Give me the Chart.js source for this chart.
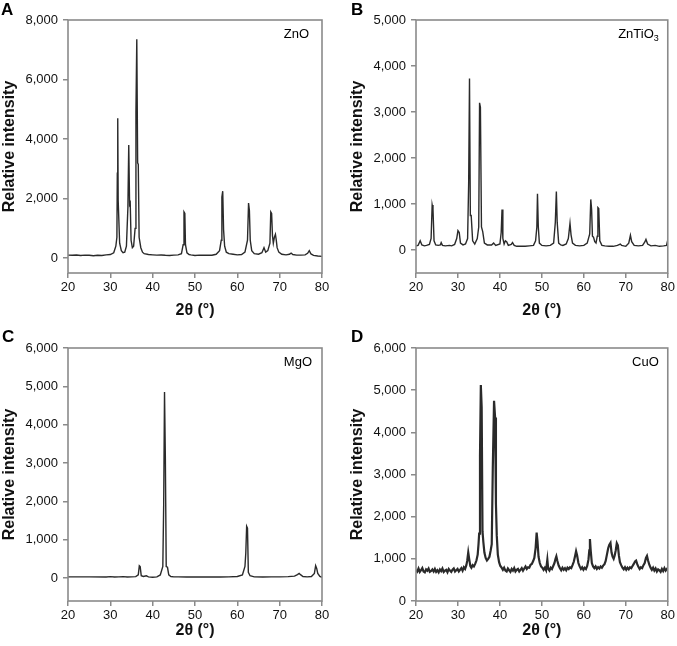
<!DOCTYPE html>
<html><head><meta charset="utf-8">
<script src="https://cdn.jsdelivr.net/npm/chart.js@4"></script>
<style>
html,body{margin:0;padding:0;background:#fff;width:677px;height:646px;overflow:hidden}
canvas{position:absolute;display:block}
</style></head><body>
<canvas id="cA" width="338" height="320" style="left:0;top:0"></canvas>
<canvas id="cB" width="339" height="320" style="left:338px;top:0"></canvas>
<canvas id="cC" width="338" height="326" style="left:0;top:320px"></canvas>
<canvas id="cD" width="339" height="326" style="left:338px;top:320px"></canvas>
<script>
// ---------- data ----------
const xTicks = [20, 30, 40, 50, 60, 70, 80];
const xTitle = '2θ (°)';
const yTitle = 'Relative intensity';
const panelLetters = ['A', 'B', 'C', 'D'];
const sampleNames = ['ZnO', 'ZnTiO|3', 'MgO', 'CuO'];
const yTicksA = [0, 2000, 4000, 6000, 8000];
const yTicksB = [0, 1000, 2000, 3000, 4000, 5000];
const yTicksC = [0, 1000, 2000, 3000, 4000, 5000, 6000];
const yTicksD = [0, 1000, 2000, 3000, 4000, 5000, 6000];
const yRangeA = [-500, 8000];
const yRangeB = [-500, 5000];
const yRangeC = [-600, 6000];
const yRangeD = [0, 6000];

// [2θ, intensity]
const znoPattern = [[20,100],[21,95],[22,105],[23,90],[24,100],[25,95],[26,80],[27,95],[28,90],[29,110],[30,120],[30.8,180],[31.3,400],[31.55,700],[31.65,2850],[31.75,4700],[31.85,1950],[31.95,1950],[32.2,500],[32.6,250],[33,180],[33.4,200],[33.8,400],[34.15,1700],[34.35,3800],[34.55,1800],[34.7,1850],[34.9,600],[35.2,350],[35.5,400],[35.85,1000],[36.05,4900],[36.25,7350],[36.45,3200],[36.6,3150],[36.8,700],[37.2,350],[37.6,200],[38,150],[39,120],[40,110],[41,100],[42,105],[43,95],[44,90],[45,100],[46,110],[46.8,150],[47.2,450],[47.4,1550],[47.6,1500],[47.75,450],[48.1,180],[48.6,120],[49,110],[50,90],[51,100],[52,95],[53,100],[54,95],[55,130],[55.8,250],[56.2,600],[56.35,2050],[56.55,2250],[56.75,950],[57,400],[57.4,200],[58,150],[59,130],[60,110],[61,120],[61.8,200],[62.4,600],[62.65,1850],[62.85,1600],[63.05,600],[63.4,250],[64,150],[65,130],[65.8,180],[66.3,350],[66.7,200],[67.2,250],[67.7,500],[67.9,1550],[68.1,1500],[68.3,750],[68.5,500],[68.75,700],[69,800],[69.2,600],[69.4,350],[69.8,200],[70.5,130],[71.5,110],[72.3,130],[72.7,170],[73.1,120],[74,100],[75,100],[76,110],[76.6,160],[77,250],[77.4,140],[78,90],[79,70],[80,60]];

const zntio3Pattern = [[20,90],[20.5,100],[21,200],[21.4,110],[22,90],[22.5,100],[23.2,120],[23.6,250],[23.85,980],[24.05,880],[24.3,200],[24.7,110],[25.3,100],[25.8,110],[26,160],[26.3,100],[27,90],[28,100],[28.5,90],[29.2,120],[29.7,250],[30,420],[30.3,380],[30.6,150],[31.2,110],[31.8,130],[32.3,250],[32.55,1450],[32.75,3730],[32.95,750],[33.15,750],[33.5,200],[34,130],[34.6,250],[34.95,500],[35.15,3200],[35.35,3100],[35.6,500],[35.9,400],[36.3,150],[37,110],[38,110],[38.5,150],[39,100],[40,130],[40.3,380],[40.5,880],[40.7,250],[41,130],[41.3,200],[41.6,180],[42,100],[42.7,120],[43,160],[43.4,100],[44,80],[45,80],[46,80],[47,90],[48,100],[48.5,200],[48.8,500],[48.95,1220],[49.15,500],[49.4,150],[50,100],[51,90],[52,100],[52.8,150],[53.2,600],[53.45,1270],[53.65,600],[54,150],[54.5,110],[55,100],[55.8,130],[56.3,250],[56.7,580],[56.95,330],[57.3,150],[58,100],[59,90],[60,100],[60.8,150],[61.4,350],[61.65,1100],[61.85,880],[62.05,300],[62.3,280],[62.6,180],[62.9,150],[63.2,300],[63.35,920],[63.55,900],[63.8,200],[64.3,100],[65,90],[66,80],[67,80],[68,100],[68.7,130],[69,100],[70,80],[70.7,150],[71.1,320],[71.4,180],[72,100],[73,90],[74,100],[74.5,170],[74.8,230],[75.2,130],[76,90],[77,100],[78,80],[79,90],[79.7,100],[80,220]];

const mgoPattern = [[20,30],[25,30],[29,25],[30,35],[31,25],[32,30],[33,35],[34,25],[35,30],[36,35],[36.6,80],[36.85,320],[37.05,300],[37.3,60],[37.8,40],[38.5,60],[39,30],[40,20],[41,30],[41.8,80],[42.4,300],[42.6,1900],[42.8,4850],[43,3100],[43.2,300],[43.5,280],[43.8,80],[44.3,40],[45,30],[46,30],[48,25],[50,30],[52,25],[54,30],[56,25],[58,30],[60,40],[61.2,80],[61.8,300],[62,650],[62.2,1350],[62.4,1300],[62.6,150],[63,60],[64,30],[66,25],[68,30],[70,30],[72,35],[73.5,50],[74.2,90],[74.6,120],[75,80],[75.5,40],[76.5,30],[77.5,40],[78.2,120],[78.5,320],[78.75,250],[79,120],[79.5,40],[80,20]];

const cuoPattern = [[20,740],[20.3,700],[20.6,770],[20.9,690],[21.2,730],[21.5,780],[21.8,700],[22.1,680],[22.4,750],[22.7,720],[23,770],[23.3,690],[23.6,710],[23.9,750],[24.2,700],[24.5,760],[24.8,690],[25.1,730],[25.4,680],[25.7,750],[26,710],[26.3,770],[26.6,690],[26.9,720],[27.2,740],[27.5,680],[27.8,760],[28.1,720],[28.4,690],[28.7,740],[29,770],[29.3,700],[29.6,730],[29.9,760],[30.2,700],[30.5,740],[30.8,780],[31.1,720],[31.4,800],[31.7,760],[32,850],[32.2,950],[32.45,1150],[32.7,980],[32.95,830],[33.2,790],[33.5,850],[33.8,820],[34.1,880],[34.4,960],[34.7,1100],[34.9,1350],[35.05,1600],[35.25,3450],[35.45,5120],[35.65,4600],[35.85,1650],[36.05,1400],[36.3,1150],[36.6,1020],[36.9,960],[37.2,1000],[37.5,1050],[37.8,1200],[38.05,1350],[38.3,3150],[38.6,4750],[38.85,4350],[39.05,2300],[39.25,1550],[39.5,1100],[39.8,920],[40.1,830],[40.4,790],[40.7,740],[41,790],[41.3,720],[41.6,700],[41.9,770],[42.2,730],[42.5,690],[42.8,760],[43.1,720],[43.4,780],[43.7,700],[44,740],[44.3,760],[44.6,700],[44.9,740],[45.2,780],[45.5,720],[45.8,770],[46.1,820],[46.4,760],[46.7,800],[47,790],[47.3,860],[47.6,880],[47.9,940],[48.2,1020],[48.5,1250],[48.75,1620],[48.95,1420],[49.2,1050],[49.5,900],[49.8,820],[50.1,790],[50.4,740],[50.7,790],[51,730],[51.3,980],[51.5,760],[51.8,720],[52.1,790],[52.4,760],[52.7,830],[53,900],[53.25,1000],[53.45,1060],[53.7,950],[54,840],[54.3,780],[54.6,730],[54.9,790],[55.2,740],[55.5,780],[55.8,730],[56.1,790],[56.4,760],[56.7,800],[57,780],[57.3,850],[57.6,930],[57.9,1060],[58.15,1180],[58.4,1080],[58.7,900],[59,820],[59.3,760],[59.6,800],[59.9,740],[60.2,790],[60.5,760],[60.8,830],[61.1,980],[61.3,1200],[61.45,1470],[61.65,1180],[61.9,900],[62.2,820],[62.5,780],[62.8,820],[63.1,760],[63.4,800],[63.7,770],[64,820],[64.3,790],[64.6,840],[64.9,870],[65.2,950],[65.5,1100],[65.8,1250],[66.05,1330],[66.35,1380],[66.6,1150],[66.85,1050],[67.1,1000],[67.35,1080],[67.6,1200],[67.85,1370],[68.1,1320],[68.35,1080],[68.6,920],[68.9,850],[69.2,790],[69.5,750],[69.8,800],[70.1,740],[70.4,790],[70.7,750],[71,800],[71.3,780],[71.6,830],[71.9,880],[72.2,940],[72.45,960],[72.7,880],[73,810],[73.3,760],[73.6,800],[73.9,780],[74.2,850],[74.5,900],[74.8,1020],[75.05,1070],[75.3,960],[75.6,860],[75.9,790],[76.2,740],[76.5,790],[76.8,720],[77.1,770],[77.4,700],[77.7,750],[78,730],[78.3,690],[78.6,760],[78.9,710],[79.2,780],[79.5,720],[79.8,760],[80,740]];

// ---------- drawing ----------
const FONT = '"Liberation Sans", Arial, Helvetica, sans-serif';
const AXIS_GRAY = '#8a8a8a';
const LINE_COLOR = '#2a2a2a';

const framePlugin = {
  id: 'frame',
  afterDraw(chart, args, opts) {
    const {ctx, chartArea: a} = chart;
    ctx.save();
    ctx.strokeStyle = AXIS_GRAY;
    ctx.lineWidth = 1.6;
    ctx.strokeRect(a.left, a.top, a.right - a.left, a.bottom - a.top);
    ctx.fillStyle = '#000';
    ctx.font = 'bold 17px ' + FONT;
    ctx.textAlign = 'left';
    ctx.textBaseline = 'alphabetic';
    ctx.fillText(opts.letter, opts.letterX, opts.letterY);
    const parts = opts.name.split('|');
    ctx.font = '13px ' + FONT;
    const w1 = ctx.measureText(parts[0]).width;
    let w2 = 0;
    if (parts[1]) { ctx.font = '9px ' + FONT; w2 = ctx.measureText(parts[1]).width; }
    const xr = a.right - opts.nameInset;
    const yc = a.top + 14.5;
    ctx.textBaseline = 'middle';
    ctx.font = '13px ' + FONT;
    ctx.fillText(parts[0], xr - w2 - w1, yc);
    if (parts[1]) { ctx.font = '9px ' + FONT; ctx.fillText(parts[1], xr - w2, yc + 4); }
    ctx.restore();
  }
};

function makeChart(id, pattern, yTicks, yRange, idx, lay) {
  new Chart(document.getElementById(id), {
    type: 'line',
    data: {
      datasets: [{
        data: pattern.map(p => ({x: p[0], y: p[1]})),
        borderColor: LINE_COLOR,
        borderWidth: lay.lw,
        pointRadius: 0,
        tension: 0,
        fill: false
      }]
    },
    options: {
      responsive: false,
      devicePixelRatio: 1,
      animation: false,
      events: [],
      layout: {padding: {left: lay.padL, right: lay.padR, top: lay.padT, bottom: 0}},
      plugins: {
        legend: {display: false},
        tooltip: {enabled: false},
        frame: {letter: panelLetters[idx], name: sampleNames[idx], letterX: lay.letterX, letterY: lay.letterY, nameInset: lay.nameInset}
      },
      scales: {
        x: {
          type: 'linear', min: 20, max: 80,
          afterBuildTicks: s => { s.ticks = xTicks.map(v => ({value: v})); },
          afterFit: s => { s.height = lay.xH; },
          border: {display: false},
          grid: {display: true, drawOnChartArea: false, drawTicks: true, tickLength: 5, color: AXIS_GRAY, lineWidth: 1.5},
          ticks: {color: '#111', font: {family: FONT, size: 13}, padding: 2, maxRotation: 0, autoSkip: false},
          title: {display: true, text: xTitle, color: '#111', font: {family: FONT, size: 16, weight: 'bold'}, padding: {top: 0, bottom: lay.xTitlePad}}
        },
        y: {
          type: 'linear', min: yRange[0], max: yRange[1],
          afterBuildTicks: s => { s.ticks = yTicks.map(v => ({value: v})); },
          afterFit: s => { s.width = 68; },
          border: {display: false},
          grid: {display: true, drawOnChartArea: false, drawTicks: true, tickLength: 5, color: AXIS_GRAY, lineWidth: 1.5},
          ticks: {color: '#111', font: {family: FONT, size: 13}, padding: 5, autoSkip: false, callback: v => Number(v).toLocaleString('en-US')},
          title: {display: true, text: yTitle, color: '#111', font: {family: FONT, size: 16, weight: 'bold'}, padding: {top: 0, bottom: 0}}
        }
      }
    },
    plugins: [framePlugin]
  });
}

makeChart('cA', znoPattern, yTicksA, yRangeA, 0, {padL: 0, padR: 16, padT: 20, xH: 47, xTitlePad: 0, letterX: 1, letterY: 15, nameInset: 13, lw: 1.4});
makeChart('cB', zntio3Pattern, yTicksB, yRangeB, 1, {padL: 10, padR: 8, padT: 20, xH: 47, xTitlePad: 0, letterX: 13, letterY: 15, nameInset: 9, lw: 1.4});
makeChart('cC', mgoPattern, yTicksC, yRangeC, 2, {padL: 0, padR: 16, padT: 28, xH: 45, xTitlePad: 6, letterX: 2, letterY: 22, nameInset: 10, lw: 1.4});
makeChart('cD', cuoPattern, yTicksD, yRangeD, 3, {padL: 10, padR: 8, padT: 28, xH: 45, xTitlePad: 6, letterX: 13, letterY: 22, nameInset: 9, lw: 2.2});
</script>
</body></html>
